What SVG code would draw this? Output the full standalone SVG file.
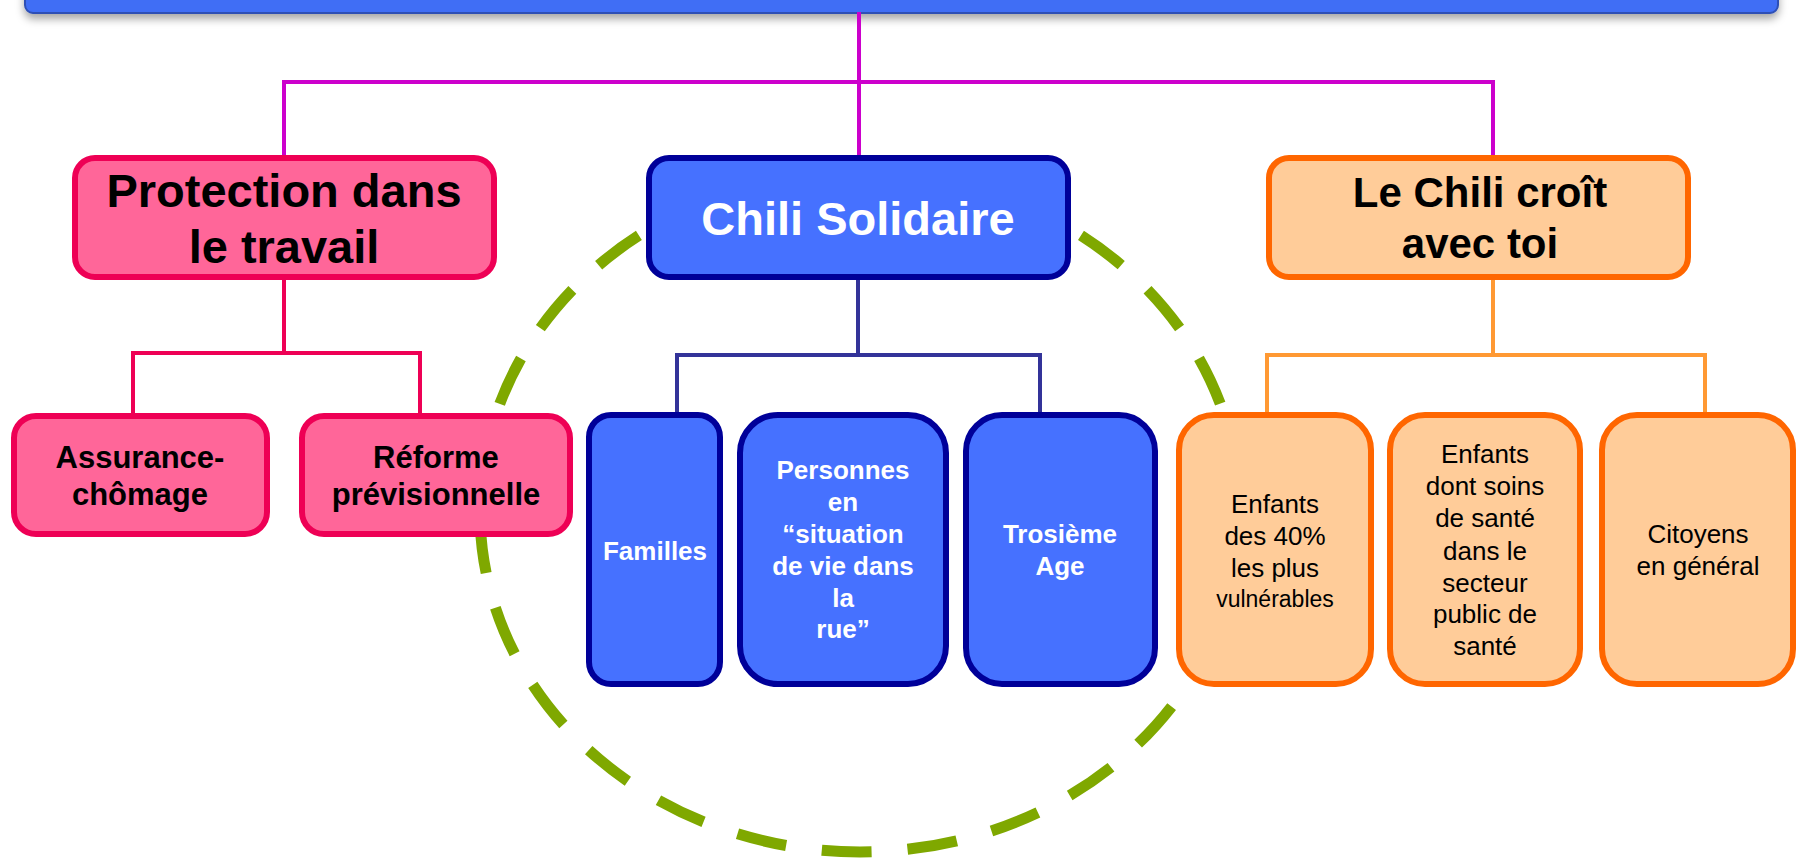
<svg xmlns="http://www.w3.org/2000/svg" width="1805" height="861" viewBox="0 0 1805 861">
<defs>
<filter id="sh" x="-5%" y="-50%" width="110%" height="250%">
<feDropShadow dx="0" dy="5" stdDeviation="4" flood-color="#000" flood-opacity="0.35"/>
</filter>
</defs>
<style>
.pink{fill:#FF6699;stroke:#EE0055;stroke-width:6}
.blue{fill:#4671FF;stroke:#000099;stroke-width:6}
.orng{fill:#FFCC99;stroke:#FF6600;stroke-width:6}
text{font-family:"Liberation Sans",Arial,sans-serif;text-anchor:middle}
.t1{font-size:47px;font-weight:bold;fill:#000}
.t1w{font-size:47px;font-weight:bold;fill:#fff}
.t1s{font-size:42px;font-weight:bold;fill:#000}
.t2{font-size:31px;font-weight:bold;fill:#000}
.t3{font-size:26px;font-weight:bold;fill:#fff}
.t4{font-size:26px;fill:#000}
.c{fill:none;stroke-width:4}
</style>
<rect x="0" y="0" width="1805" height="861" fill="#fff"/>
<g id="circle">
<ellipse cx="860" cy="512" rx="380" ry="340" fill="none" stroke="#7FA800" stroke-width="11" stroke-dasharray="50 36" stroke-dashoffset="48"/>
</g>
<g id="topbar">
<rect x="25" y="-40" width="1753" height="53" rx="8" fill="#3F6EF5" stroke="#2D4FB5" stroke-width="2" filter="url(#sh)"/>
</g>
<g id="connectors">
<path class="c" stroke="#CC00CC" d="M859,12 V157 M284,157 V82 H1493 V157"/>
<path class="c" stroke="#EE0055" d="M284,279 V353 M133,414 V353 H420 V414"/>
<path class="c" stroke="#333399" d="M858,279 V355 M677,414 V355 H1040 V414"/>
<path class="c" stroke="#FF9933" d="M1493,279 V355 M1267,414 V355 H1705 V414"/>
</g>
<g id="protection">
<rect class="pink" x="75" y="158" width="419" height="119" rx="20"/>
<text class="t1" x="284" y="207">Protection dans</text>
<text class="t1" x="284" y="263">le travail</text>
</g>
<g id="chili-solidaire">
<rect class="blue" x="649" y="158" width="419" height="119" rx="20"/>
<text class="t1w" x="858" y="235">Chili Solidaire</text>
</g>
<g id="le-chili">
<rect class="orng" x="1269" y="158" width="419" height="119" rx="20"/>
<text class="t1s" x="1480" y="207">Le Chili croît</text>
<text class="t1s" x="1480" y="258">avec toi</text>
</g>
<g id="assurance">
<rect class="pink" x="14" y="416" width="253" height="118" rx="22"/>
<text class="t2" x="140" y="468">Assurance-</text>
<text class="t2" x="140" y="505">chômage</text>
</g>
<g id="reforme">
<rect class="pink" x="302" y="416" width="268" height="118" rx="22"/>
<text class="t2" x="436" y="468">Réforme</text>
<text class="t2" x="436" y="505">prévisionnelle</text>
</g>
<g id="familles">
<rect class="blue" x="589" y="415" width="131" height="269" rx="22"/>
<text class="t3" x="655" y="560">Familles</text>
</g>
<g id="personnes">
<rect class="blue" x="740" y="415" width="206" height="269" rx="38"/>
<text class="t3" x="843" y="479">Personnes</text>
<text class="t3" x="843" y="511">en</text>
<text class="t3" x="843" y="543">“situation</text>
<text class="t3" x="843" y="575">de vie dans</text>
<text class="t3" x="843" y="607">la</text>
<text class="t3" x="843" y="638">rue”</text>
</g>
<g id="troisieme">
<rect class="blue" x="966" y="415" width="189" height="269" rx="36"/>
<text class="t3" x="1060" y="543">Trosième</text>
<text class="t3" x="1060" y="575">Age</text>
</g>
<g id="enfants40">
<rect class="orng" x="1179" y="415" width="192" height="269" rx="35"/>
<text class="t4" x="1275" y="513">Enfants</text>
<text class="t4" x="1275" y="545">des 40%</text>
<text class="t4" x="1275" y="577">les plus</text>
<text class="t4" x="1275" y="607" style="font-size:23px">vulnérables</text>
</g>
<g id="enfants-sante">
<rect class="orng" x="1390" y="415" width="190" height="269" rx="35"/>
<text class="t4" x="1485" y="463">Enfants</text>
<text class="t4" x="1485" y="495">dont soins</text>
<text class="t4" x="1485" y="527">de santé</text>
<text class="t4" x="1485" y="560">dans le</text>
<text class="t4" x="1485" y="592">secteur</text>
<text class="t4" x="1485" y="623">public de</text>
<text class="t4" x="1485" y="655">santé</text>
</g>
<g id="citoyens">
<rect class="orng" x="1602" y="415" width="191" height="269" rx="35"/>
<text class="t4" x="1698" y="543">Citoyens</text>
<text class="t4" x="1698" y="575">en général</text>
</g>
</svg>
